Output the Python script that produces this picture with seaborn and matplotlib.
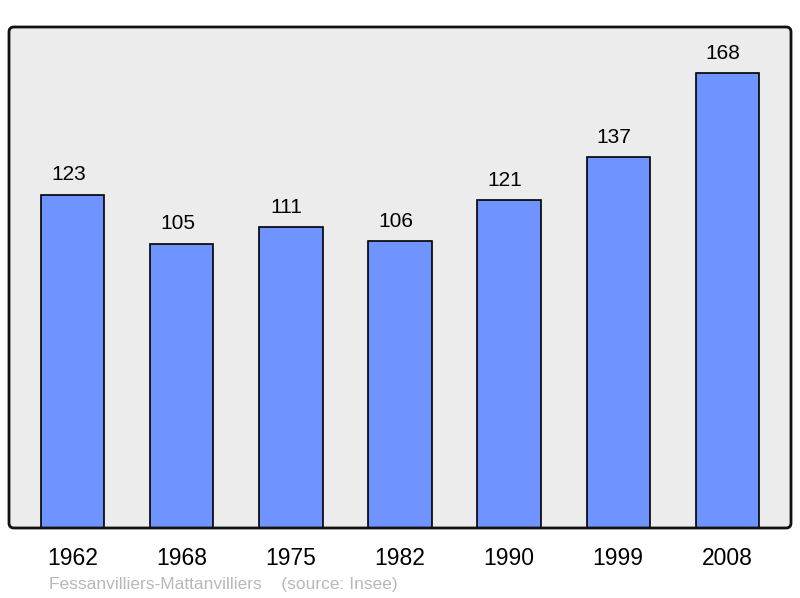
import matplotlib
matplotlib.use("Agg")
import matplotlib.pyplot as plt
import matplotlib.transforms as mtransforms
import seaborn as sns
import pandas as pd
from matplotlib.patches import FancyBboxPatch

years = ["1962", "1968", "1975", "1982", "1990", "1999", "2008"]
population = [123, 105, 111, 106, 121, 137, 168]
footer = "Fessanvilliers-Mattanvilliers    (source: Insee)"

sns.set_theme(style="white")
plt.rcParams['font.family'] = ['Liberation Sans', 'DejaVu Sans']

df = pd.DataFrame({"year": years, "pop": population})

fig = plt.figure(figsize=(8, 5.98), dpi=100)
ax = fig.add_axes([9/800, 1-528/598, 782/800, 501/598])
ax.patch.set_visible(False)

sns.barplot(data=df, x="year", y="pop", color="#7094ff", edgecolor="black",
            linewidth=1.2, width=0.58, saturation=1, ax=ax)

ax.set_xlim(-0.585, 6.585)
ax.set_ylim(0, 185)
ax.set_xlabel("")
ax.set_ylabel("")
ax.set_yticks([])
ax.tick_params(axis="x", length=0, pad=14, labelsize=16.5, colors="black")
for s in ax.spines.values():
    s.set_visible(False)

# rounded frame
ident = mtransforms.IdentityTransform()
bg = FancyBboxPatch((9, 70), 782, 501, boxstyle="round,pad=0,rounding_size=5",
                    facecolor="#ececec", edgecolor="none", transform=ident, zorder=-1)
frame = FancyBboxPatch((9, 70), 782, 501, boxstyle="round,pad=0,rounding_size=5",
                       facecolor="none", edgecolor="#111111", linewidth=2,
                       transform=ident, zorder=5)
fig.add_artist(bg)
fig.add_artist(frame)

for i, v in enumerate(population):
    ax.annotate(str(v), (i, v), xytext=(-3, 7.5), textcoords="offset points",
                ha="center", va="bottom", fontsize=15, color="black")

fig.text(49/800, 1-584/598, footer, fontsize=12.5, color="#b8b8b8",
         ha="left", va="center")

fig.savefig("out.png", dpi=100)
